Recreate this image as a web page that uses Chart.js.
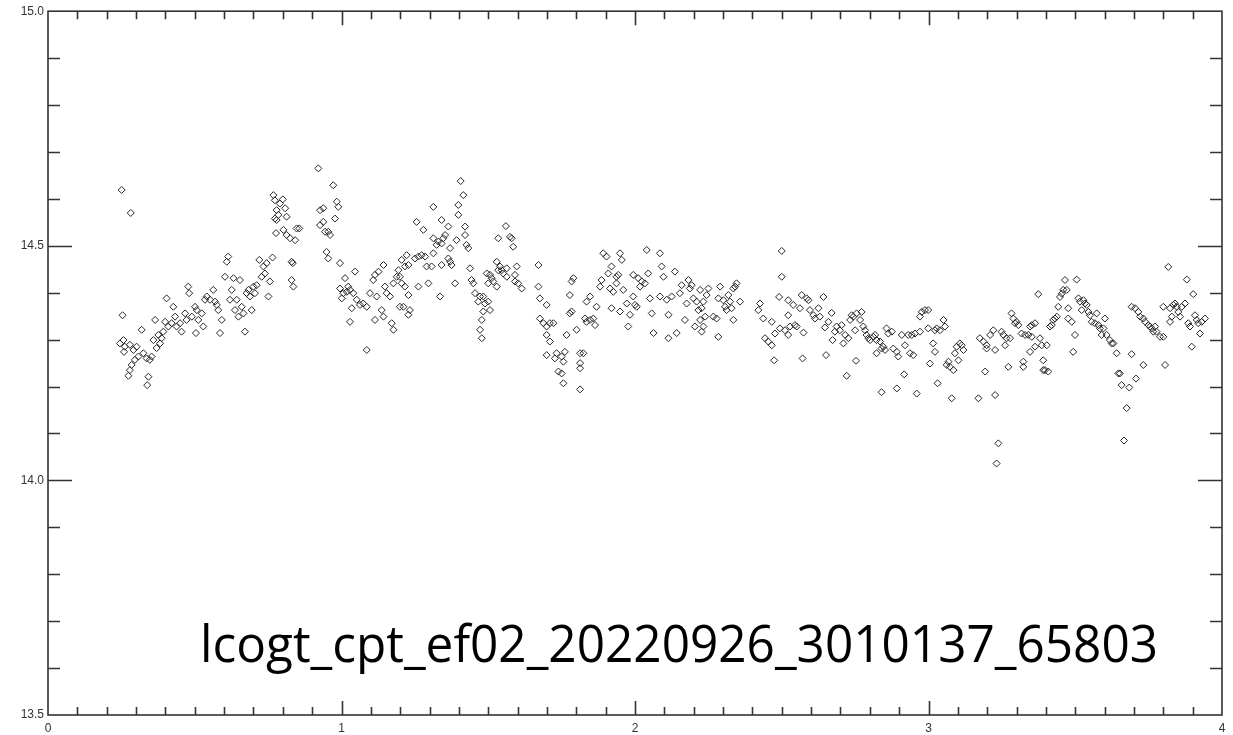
<!DOCTYPE html>
<html>
<head>
<meta charset="utf-8">
<script src="https://cdn.jsdelivr.net/npm/chart.js@4/dist/chart.umd.min.js"></script>
<style>
  html, body { margin: 0; padding: 0; background: #fff; }
  #wrap { position: relative; width: 1233px; height: 735px; }
  #tag {
    position: absolute; left: 200px; top: 616px;
    font-family: "Open Sans"; font-size: 52px; line-height: 52px;
    color: #000; white-space: nowrap; transform-origin: 0 0;
  }
</style>
</head>
<body>
<div id="wrap">
  <canvas id="lc" width="1233" height="735"></canvas>
  <div id="tag">lcogt_cpt_ef02_20220926_3010137_65803</div>
</div>
<script>
// light curve (time, magnitude)
const timeA = [0.251,0.282,0.254,0.257,0.245,0.262,0.259,0.279,0.291,0.302,0.308,0.296,0.285,0.279,0.274,0.325,0.336,0.347,0.353,0.342,0.338,0.319,0.365,0.359,0.376,0.382,0.370,0.387,0.393,0.399,0.404,0.410,0.421,0.427,0.433,0.438,0.450,0.455,0.467,0.472,0.478,0.481,0.490,0.501,0.507,0.512,0.504,0.524,0.529,0.535,0.541,0.552,0.563,0.569,0.575,0.580,0.586,0.592,0.603,0.609,0.614,0.620,0.626,0.632,0.637,0.643,0.649,0.654,0.660,0.666,0.671,0.677,0.683,0.688,0.694,0.700,0.705,0.711,0.720,0.728,0.734,0.739,0.745,0.751,0.756,0.765,0.768,0.773,0.779,0.785,0.790,0.800,0.808,0.813,0.773,0.779,0.777,0.802,0.813,0.825,0.842,0.847,0.856,0.830,0.834,0.830,0.836];
const magA  = [14.619,14.570,14.352,14.299,14.292,14.285,14.274,14.289,14.278,14.285,14.264,14.257,14.246,14.235,14.223,14.271,14.260,14.257,14.264,14.221,14.203,14.321,14.342,14.299,14.310,14.292,14.282,14.303,14.317,14.338,14.388,14.328,14.335,14.370,14.349,14.328,14.335,14.317,14.356,14.342,14.413,14.399,14.349,14.370,14.363,14.342,14.314,14.356,14.328,14.385,14.392,14.385,14.406,14.381,14.374,14.363,14.314,14.342,14.434,14.466,14.477,14.385,14.406,14.431,14.363,14.385,14.349,14.427,14.370,14.356,14.317,14.399,14.406,14.392,14.363,14.413,14.399,14.416,14.470,14.434,14.456,14.441,14.463,14.392,14.424,14.475,14.608,14.597,14.576,14.566,14.590,14.599,14.580,14.562,14.558,14.555,14.527,14.534,14.523,14.516,14.512,14.537,14.537,14.466,14.463,14.427,14.413];

const timeB = [0.921,0.972,0.984,0.989,0.978,0.927,0.938,0.927,0.938,0.944,0.961,0.955,0.949,0.955,0.995,1.012,1.046,1.023,1.018,1.006,1.001,1.029,1.040,1.052,1.063,1.074,1.086,1.097,1.108,1.114,1.126,1.120,1.143,1.148,1.154,1.165,1.177,1.188,1.194,1.199,1.137,1.143,1.114,1.171,1.177,1.035,1.029,1.086,0.995];
const magB  = [14.665,14.629,14.594,14.583,14.558,14.576,14.580,14.544,14.551,14.530,14.523,14.530,14.487,14.473,14.463,14.431,14.445,14.413,14.402,14.399,14.388,14.406,14.399,14.385,14.374,14.377,14.370,14.399,14.427,14.438,14.445,14.392,14.459,14.413,14.399,14.392,14.420,14.434,14.448,14.370,14.363,14.349,14.342,14.335,14.321,14.367,14.338,14.278,14.409];

const timeC = [1.205,1.222,1.228,1.216,1.199,1.205,1.216,1.228,1.211,1.233,1.228,1.256,1.279,1.250,1.262,1.273,1.285,1.290,1.307,1.313,1.313,1.324,1.330,1.341,1.341,1.347,1.353,1.364,1.370,1.364,1.375,1.370,1.341,1.313,1.336,1.296,1.262,1.387,1.392,1.398,1.398,1.415,1.406,1.421,1.421,1.426,1.432,1.438,1.443,1.449,1.455,1.466,1.472,1.483,1.489,1.500,1.506,1.483,1.478,1.472,1.478,1.495,1.506,1.500,1.512,1.517,1.529,1.529,1.534,1.540,1.546,1.551,1.563,1.563,1.534,1.560,1.574,1.580,1.585,1.591,1.597,1.591,1.602,1.614];
const magC  = [14.470,14.480,14.459,14.456,14.434,14.420,14.413,14.395,14.370,14.363,14.353,14.551,14.534,14.473,14.477,14.480,14.477,14.456,14.456,14.484,14.516,14.502,14.509,14.505,14.459,14.516,14.523,14.541,14.495,14.473,14.459,14.466,14.555,14.583,14.392,14.420,14.413,14.420,14.512,14.566,14.587,14.608,14.638,14.541,14.523,14.502,14.495,14.452,14.427,14.420,14.399,14.381,14.392,14.392,14.377,14.381,14.363,14.360,14.342,14.321,14.303,14.441,14.438,14.420,14.431,14.424,14.466,14.413,14.448,14.456,14.448,14.441,14.434,14.452,14.516,14.542,14.519,14.516,14.498,14.438,14.456,14.424,14.420,14.409];

const timeD = [1.671,1.671,1.676,1.699,1.676,1.688,1.699,1.710,1.722,1.699,1.710,1.699,1.727,1.733,1.750,1.756,1.761,1.739,1.750,1.756,1.813,1.824,1.813,1.813,1.813,1.767,1.778,1.784,1.790,1.784,1.778,1.801,1.830,1.835,1.847,1.858,1.864,1.835,1.847,1.869,1.881,1.886,1.892,1.903,1.909,1.920,1.915,1.926,1.937,1.943,1.949,1.955,1.937,1.920,1.949,1.960,1.972,1.983,1.977,1.994,1.994,2.000,2.006,2.011,2.017,2.023,2.034,2.045,2.040,2.057,2.063,2.051,2.085,2.085,2.091,2.097,2.108,2.114,2.114,2.125,2.136,2.142,2.153,2.159,2.170,2.176,2.182,2.187,2.199,2.204,2.193,2.210,2.216];
const magD  = [14.459,14.413,14.388,14.374,14.345,14.335,14.328,14.335,14.335,14.310,14.296,14.267,14.260,14.271,14.264,14.253,14.274,14.232,14.228,14.207,14.271,14.271,14.250,14.239,14.194,14.310,14.356,14.360,14.431,14.424,14.395,14.321,14.345,14.338,14.342,14.345,14.331,14.381,14.392,14.370,14.413,14.427,14.484,14.477,14.441,14.456,14.409,14.402,14.434,14.438,14.484,14.470,14.420,14.367,14.360,14.406,14.377,14.353,14.328,14.438,14.392,14.374,14.370,14.431,14.413,14.424,14.420,14.441,14.491,14.356,14.314,14.388,14.484,14.392,14.456,14.434,14.385,14.353,14.303,14.392,14.445,14.314,14.399,14.416,14.342,14.377,14.427,14.409,14.388,14.328,14.416,14.381,14.363];

const timeE = [2.222,2.250,2.233,2.244,2.227,2.239,2.222,2.233,2.227,2.267,2.278,2.284,2.290,2.284,2.301,2.307,2.312,2.318,2.324,2.329,2.335,2.335,2.346,2.341,2.358,2.426,2.420,2.437,2.466,2.443,2.454,2.466,2.477,2.494,2.511,2.522,2.528,2.551,2.545,2.574,2.474,2.491,2.500,2.500,2.522,2.522,2.539,2.562,2.568,2.585,2.591,2.596,2.608,2.613,2.625,2.630,2.642,2.647,2.659,2.670,2.673,2.681,2.687,2.698,2.704,2.710,2.716,2.727,2.733,2.738,2.744,2.750,2.651,2.571,2.721];
const magE  = [14.406,14.409,14.381,14.395,14.367,14.349,14.342,14.328,14.317,14.349,14.345,14.306,14.413,14.388,14.384,14.370,14.363,14.395,14.381,14.367,14.342,14.409,14.420,14.413,14.381,14.377,14.363,14.345,14.338,14.303,14.296,14.288,14.313,14.324,14.320,14.310,14.328,14.328,14.331,14.315,14.256,14.391,14.434,14.489,14.384,14.352,14.374,14.367,14.395,14.388,14.384,14.363,14.352,14.345,14.367,14.349,14.391,14.326,14.338,14.357,14.299,14.317,14.328,14.320,14.331,14.292,14.310,14.303,14.342,14.352,14.349,14.320,14.267,14.260,14.223];

const timeF = [2.755,2.767,2.772,2.778,2.784,2.789,2.795,2.801,2.812,2.818,2.823,2.835,2.840,2.846,2.823,2.852,2.857,2.863,2.875,2.880,2.892,2.897,2.909,2.920,2.931,2.937,2.948,2.943,2.954,2.971,2.977,2.988,2.999,2.971,2.999,3.022,3.028,3.039,3.051,3.056,3.016,3.022,3.005,3.062,3.068,3.073,3.085,3.090,3.096,3.107,3.113,3.119,3.102,3.175,3.187,3.198,3.210,3.221,3.227,3.198,3.193,3.170,3.227,3.238,3.232,2.753,2.840,2.892,2.960,2.917,3.031,3.079];
const magF  = [14.356,14.342,14.359,14.328,14.320,14.310,14.303,14.299,14.306,14.310,14.299,14.296,14.281,14.285,14.271,14.278,14.324,14.313,14.317,14.281,14.274,14.264,14.310,14.288,14.310,14.271,14.267,14.310,14.313,14.317,14.359,14.363,14.363,14.349,14.324,14.320,14.324,14.320,14.342,14.328,14.292,14.274,14.249,14.246,14.253,14.242,14.235,14.271,14.285,14.292,14.288,14.278,14.256,14.303,14.296,14.288,14.310,14.320,14.278,14.281,14.232,14.175,14.182,14.079,14.036,14.255,14.188,14.196,14.185,14.226,14.207,14.175];

const timeG = [3.249,3.255,3.261,3.266,3.278,3.272,3.283,3.289,3.295,3.300,3.306,3.317,3.323,3.323,3.329,3.340,3.346,3.352,3.363,3.352,3.346,3.363,3.374,3.380,3.386,3.391,3.397,3.391,3.403,3.408,3.414,3.420,3.425,3.431,3.437,3.442,3.448,3.454,3.459,3.465,3.471,3.476,3.476,3.488,3.499,3.493,3.505,3.511,3.516,3.522,3.528,3.533,3.539,3.545,3.550,3.556,3.567,3.573,3.579,3.584,3.596,3.601,3.590,3.607,3.618,3.624,3.630,3.641,3.647,3.652,3.658,3.675,3.684,3.666,3.692,3.707,3.732,3.692,3.704,3.715,3.721,3.732,3.738,3.749,3.755,3.760,3.766,3.772,3.777,3.789,3.800,3.800,3.806,3.817,3.823,3.829,3.834,3.840,3.846,3.851,3.857,3.863,3.874,3.880,3.885,3.891,3.902,3.908,3.914,3.919,3.925,3.931,3.942,3.897,3.823];
const magG  = [14.317,14.310,14.288,14.303,14.303,14.242,14.356,14.345,14.335,14.338,14.331,14.313,14.253,14.242,14.310,14.310,14.328,14.331,14.335,14.306,14.274,14.285,14.397,14.303,14.288,14.256,14.235,14.235,14.288,14.232,14.328,14.331,14.342,14.345,14.349,14.370,14.391,14.398,14.406,14.427,14.406,14.367,14.345,14.338,14.310,14.274,14.428,14.388,14.381,14.363,14.384,14.377,14.374,14.359,14.352,14.338,14.335,14.356,14.331,14.324,14.324,14.345,14.310,14.310,14.299,14.292,14.292,14.271,14.228,14.228,14.203,14.154,14.198,14.085,14.269,14.217,14.246,14.370,14.367,14.359,14.349,14.345,14.338,14.331,14.328,14.324,14.317,14.328,14.317,14.306,14.306,14.370,14.246,14.455,14.367,14.349,14.374,14.377,14.370,14.359,14.349,14.370,14.377,14.428,14.335,14.328,14.397,14.352,14.342,14.335,14.313,14.338,14.345,14.285,14.338];

const xTickLabels = [0, 1, 2, 3, 4];
const yTickLabels = [13.5, 14.0, 14.5, 15.0];

const times = [].concat(timeA, timeB, timeC, timeD, timeE, timeF, timeG);
const mags = [].concat(magA, magB, magC, magD, magE, magF, magG);
const points = times.map((t, i) => ({ x: t, y: mags[i] }));

// IDL style frame: box on all four sides, ticks pointing inward
const idlFrame = {
  id: 'idlFrame',
  afterDatasetsDraw(chart) {
    const { ctx, chartArea: a, scales: { x, y } } = chart;
    ctx.save();
    ctx.strokeStyle = '#333';
    ctx.lineWidth = 1.6;
    ctx.strokeRect(a.left, a.top, a.right - a.left, a.bottom - a.top);
    ctx.beginPath();
    for (let i = 1; i < 40; i++) {
      const px = Math.round(x.getPixelForValue(i / 10)) + 0.5;
      const len = i % 10 === 0 ? 14 : 8;
      ctx.moveTo(px, a.bottom); ctx.lineTo(px, a.bottom - len);
      ctx.moveTo(px, a.top); ctx.lineTo(px, a.top + len);
    }
    for (let i = 1; i < 15; i++) {
      const py = Math.round(y.getPixelForValue(13.5 + i / 10)) + 0.5;
      const len = i % 5 === 0 ? 24 : 12;
      ctx.moveTo(a.left, py); ctx.lineTo(a.left + len, py);
      ctx.moveTo(a.right, py); ctx.lineTo(a.right - len, py);
    }
    ctx.stroke();
    ctx.restore();
  }
};

const tickFont = { family: 'Liberation Sans', size: 12 };

new Chart(document.getElementById('lc'), {
  type: 'scatter',
  data: {
    datasets: [{
      data: points,
      pointStyle: 'rectRot',
      pointRadius: 3.5,
      borderColor: '#262626',
      borderWidth: 1,
      backgroundColor: 'rgba(0,0,0,0)'
    }]
  },
  options: {
    responsive: false,
    animation: false,
    events: [],
    layout: { padding: { top: 11, right: 11, left: 0, bottom: 0 } },
    plugins: { legend: { display: false }, tooltip: { enabled: false } },
    scales: {
      x: {
        type: 'linear', min: 0, max: 4,
        afterFit: s => { s.height = 20; },
        afterBuildTicks: s => { s.ticks = xTickLabels.map(v => ({ value: v })); },
        ticks: { font: tickFont, color: '#333', padding: 6, maxRotation: 0, callback: v => String(v) },
        grid: { display: false, drawTicks: false },
        border: { display: false }
      },
      y: {
        type: 'linear', min: 13.5, max: 15,
        afterFit: s => { s.width = 48; },
        afterBuildTicks: s => { s.ticks = yTickLabels.map(v => ({ value: v })); },
        ticks: { font: tickFont, color: '#333', padding: 4, callback: v => v.toFixed(1) },
        grid: { display: false, drawTicks: false },
        border: { display: false }
      }
    }
  },
  plugins: [idlFrame]
});

// squeeze the caption to the width it has in the original
const tag = document.getElementById('tag');
tag.style.transform = 'scaleX(' + (958 / tag.offsetWidth) + ')';
</script>
</body>
</html>
